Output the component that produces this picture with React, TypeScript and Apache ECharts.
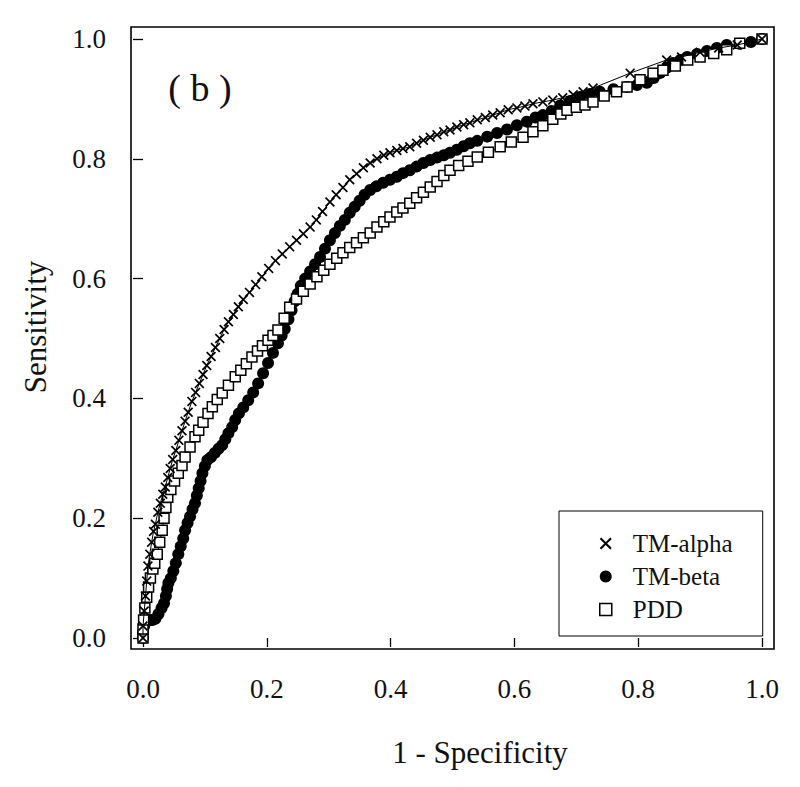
import React, { useEffect, useRef } from "react";
import * as echarts from "echarts";

const seriesNames = ["TM-alpha", "TM-beta", "PDD"];
const axisTicks = [0, 0.2, 0.4, 0.6, 0.8, 1.0];
const panelLabel = "( b )";
const xTitle = "1 - Specificity";
const yTitle = "Sensitivity";

// TM-alpha ROC points [1 - specificity, sensitivity]
const tmAlpha: [number, number][] = [
  [0, 0], [0, 0.02], [0.002, 0.045], [0.004, 0.07], [0.006, 0.095], [0.008, 0.12],
  [0.011, 0.14], [0.014, 0.16], [0.017, 0.178], [0.02, 0.19], [0.024, 0.21], [0.028, 0.225],
  [0.032, 0.24], [0.036, 0.252], [0.04, 0.268], [0.044, 0.283], [0.048, 0.298], [0.053, 0.313],
  [0.058, 0.33], [0.063, 0.346], [0.068, 0.362], [0.073, 0.377], [0.079, 0.395], [0.085, 0.41],
  [0.091, 0.425], [0.097, 0.44], [0.103, 0.455], [0.11, 0.47], [0.117, 0.485], [0.124, 0.5],
  [0.131, 0.515], [0.138, 0.528], [0.146, 0.54], [0.154, 0.553], [0.162, 0.565], [0.172, 0.577],
  [0.182, 0.59], [0.192, 0.603], [0.203, 0.617], [0.214, 0.63], [0.225, 0.641], [0.237, 0.653],
  [0.248, 0.664], [0.259, 0.675], [0.27, 0.686], [0.28, 0.698], [0.29, 0.712], [0.302, 0.728],
  [0.312, 0.74], [0.323, 0.752], [0.334, 0.765], [0.345, 0.775], [0.356, 0.785], [0.367, 0.793],
  [0.378, 0.8], [0.389, 0.806], [0.399, 0.81], [0.41, 0.814], [0.42, 0.817], [0.431, 0.82],
  [0.442, 0.826], [0.453, 0.831], [0.464, 0.836], [0.475, 0.84], [0.486, 0.845], [0.496, 0.848],
  [0.507, 0.853], [0.518, 0.857], [0.528, 0.86], [0.54, 0.865], [0.553, 0.869], [0.565, 0.873],
  [0.577, 0.877], [0.59, 0.882], [0.604, 0.885], [0.617, 0.888], [0.63, 0.892], [0.646, 0.895],
  [0.662, 0.898], [0.678, 0.902], [0.695, 0.907], [0.711, 0.912], [0.727, 0.918], [0.787, 0.943],
  [0.846, 0.965], [0.87, 0.97], [0.9, 0.978], [0.93, 0.985], [0.96, 0.99], [1, 1],
];

// TM-beta ROC points
const tmBeta: [number, number][] = [
  [0, 0], [0, 0.01], [0.002, 0.02], [0.005, 0.028], [0.01, 0.03], [0.015, 0.03],
  [0.02, 0.032], [0.025, 0.04], [0.03, 0.05], [0.034, 0.058], [0.037, 0.07], [0.039, 0.082],
  [0.041, 0.092], [0.045, 0.1], [0.049, 0.112], [0.053, 0.125], [0.057, 0.14], [0.061, 0.153],
  [0.065, 0.166], [0.068, 0.18], [0.072, 0.192], [0.076, 0.203], [0.08, 0.215], [0.084, 0.225],
  [0.087, 0.238], [0.09, 0.25], [0.093, 0.262], [0.096, 0.275], [0.1, 0.287], [0.104, 0.297],
  [0.11, 0.302], [0.116, 0.309], [0.122, 0.316], [0.128, 0.322], [0.133, 0.332], [0.138, 0.342],
  [0.144, 0.352], [0.149, 0.364], [0.155, 0.375], [0.162, 0.385], [0.17, 0.397], [0.178, 0.41],
  [0.186, 0.425], [0.194, 0.442], [0.202, 0.459], [0.21, 0.476], [0.218, 0.492], [0.224, 0.505],
  [0.229, 0.516], [0.235, 0.532], [0.24, 0.547], [0.245, 0.562], [0.25, 0.575], [0.255, 0.588],
  [0.262, 0.6], [0.27, 0.612], [0.278, 0.624], [0.286, 0.636], [0.294, 0.65], [0.302, 0.664],
  [0.31, 0.676], [0.318, 0.688], [0.326, 0.698], [0.334, 0.71], [0.342, 0.72], [0.35, 0.73],
  [0.358, 0.74], [0.367, 0.748], [0.377, 0.754], [0.388, 0.76], [0.399, 0.765], [0.41, 0.77],
  [0.42, 0.776], [0.431, 0.781], [0.442, 0.787], [0.453, 0.793], [0.464, 0.798], [0.475, 0.802],
  [0.486, 0.806], [0.496, 0.81], [0.507, 0.815], [0.518, 0.821], [0.528, 0.826], [0.54, 0.83],
  [0.556, 0.837], [0.572, 0.843], [0.588, 0.849], [0.604, 0.856], [0.62, 0.862], [0.634, 0.869],
  [0.646, 0.873], [0.66, 0.88], [0.674, 0.889], [0.69, 0.896], [0.706, 0.903], [0.722, 0.908],
  [0.738, 0.912], [0.76, 0.916], [0.782, 0.92], [0.798, 0.923], [0.814, 0.927], [0.825, 0.935],
  [0.835, 0.943], [0.846, 0.952], [0.856, 0.96], [0.868, 0.965], [0.879, 0.97], [0.895, 0.975],
  [0.911, 0.98], [0.927, 0.985], [0.943, 0.99], [0.964, 0.992], [0.982, 0.995], [1, 1],
];

// PDD ROC points
const pdd: [number, number][] = [
  [0, 0], [0, 0.015], [0.001, 0.03], [0.003, 0.05], [0.006, 0.068], [0.009, 0.085],
  [0.012, 0.1], [0.016, 0.115], [0.019, 0.125], [0.023, 0.14], [0.027, 0.16], [0.031, 0.18],
  [0.034, 0.2], [0.037, 0.218], [0.04, 0.235], [0.045, 0.248], [0.051, 0.262], [0.057, 0.275],
  [0.063, 0.288], [0.068, 0.302], [0.076, 0.319], [0.084, 0.336], [0.09, 0.347], [0.097, 0.36],
  [0.105, 0.375], [0.112, 0.386], [0.12, 0.398], [0.128, 0.409], [0.138, 0.422], [0.149, 0.436],
  [0.158, 0.447], [0.167, 0.458], [0.176, 0.469], [0.185, 0.479], [0.193, 0.488], [0.202, 0.497],
  [0.21, 0.505], [0.218, 0.514], [0.228, 0.534], [0.237, 0.552], [0.248, 0.566], [0.259, 0.579],
  [0.27, 0.591], [0.281, 0.603], [0.292, 0.614], [0.302, 0.624], [0.313, 0.634], [0.323, 0.643],
  [0.334, 0.652], [0.345, 0.66], [0.356, 0.668], [0.367, 0.676], [0.378, 0.686], [0.389, 0.695],
  [0.399, 0.703], [0.41, 0.711], [0.42, 0.718], [0.431, 0.726], [0.442, 0.735], [0.453, 0.744],
  [0.464, 0.753], [0.475, 0.762], [0.486, 0.772], [0.496, 0.781], [0.51, 0.789], [0.525, 0.796],
  [0.54, 0.803], [0.558, 0.811], [0.577, 0.82], [0.595, 0.828], [0.614, 0.836], [0.63, 0.845],
  [0.646, 0.855], [0.662, 0.866], [0.675, 0.875], [0.685, 0.881], [0.7, 0.886], [0.714, 0.89],
  [0.727, 0.895], [0.745, 0.905], [0.765, 0.912], [0.782, 0.92], [0.803, 0.932], [0.824, 0.943],
  [0.84, 0.948], [0.86, 0.955], [0.88, 0.965], [0.9, 0.97], [0.922, 0.976], [0.943, 0.982],
  [0.964, 0.993], [1, 1],
];

const FONT = "'Liberation Serif', 'Times New Roman', serif";
const CROSS =
  "path://M0,1.2L1.2,0L5,3.8L8.8,0L10,1.2L6.2,5L10,8.8L8.8,10L5,6.2L1.2,10L0,8.8L3.8,5Z";

export default function App() {
  const ref = useRef<HTMLDivElement>(null);
  useEffect(() => {
    const chart = echarts.init(ref.current!, null, { renderer: "svg" });
    const axisCommon = {
      type: "value",
      min: axisTicks[0],
      max: axisTicks[axisTicks.length - 1],
      interval: 0.2,
      axisLine: { show: false },
      axisTick: { show: true, inside: false, length: 10, lineStyle: { color: "#000", width: 1.3 } },
      splitLine: { show: false },
      axisLabel: {
        fontFamily: FONT,
        fontSize: 27,
        color: "#111",
        formatter: (v: number) => v.toFixed(1),
      },
    };
    chart.setOption({
      animation: false,
      backgroundColor: "#fff",
      grid: { left: 143, right: 38, top: 39, bottom: 149, containLabel: false },
      xAxis: {
        ...axisCommon,
        offset: 11,
        axisTick: { ...axisCommon.axisTick, length: 9 },
        axisLabel: { ...axisCommon.axisLabel, margin: 26 },
      },
      yAxis: {
        ...axisCommon,
        offset: 12,
        axisLabel: { ...axisCommon.axisLabel, margin: 25 },
      },
      legend: {
        orient: "vertical",
        left: 559,
        top: 511,
        padding: [20, 30, 14, 40],
        itemWidth: 12,
        itemHeight: 12,
        itemGap: 8,
        borderColor: "#000",
        borderWidth: 1,
        textStyle: { fontFamily: FONT, fontSize: 25, color: "#111", lineHeight: 25, padding: [0, 0, 0, 16] },
        data: [
          { name: seriesNames[0], icon: CROSS, itemStyle: { color: "#000", borderWidth: 0 } },
          { name: seriesNames[1], icon: "circle", itemStyle: { color: "#000", borderWidth: 0 } },
          { name: seriesNames[2], icon: "rect", itemStyle: { color: "#fff", borderColor: "#000", borderWidth: 1.5 } },
        ],
      },
      graphic: [
        {
          type: "rect",
          shape: { x: 131, y: 27, width: 643, height: 622 },
          style: { fill: "none", stroke: "#000", lineWidth: 1.6 },
          silent: true,
        },
        {
          type: "text",
          x: 200,
          y: 88,
          style: { text: panelLabel, font: `38px ${FONT}`, fill: "#111", textAlign: "center", textVerticalAlign: "middle" },
        },
        {
          type: "text",
          x: 480,
          y: 752,
          style: { text: xTitle, font: `31px ${FONT}`, fill: "#111", textAlign: "center", textVerticalAlign: "middle" },
        },
        {
          type: "text",
          x: 35,
          y: 327,
          rotation: Math.PI / 2,
          style: { text: yTitle, font: `31px ${FONT}`, fill: "#111", textAlign: "center", textVerticalAlign: "middle" },
        },
      ],
      series: [
        {
          name: seriesNames[1],
          type: "line",
          data: tmBeta,
          symbol: "circle",
          symbolSize: 12,
          showAllSymbol: true,
          clip: false,
          itemStyle: { color: "#000" },
          lineStyle: { color: "#000", width: 1 },
          z: 2,
        },
        {
          name: seriesNames[2],
          type: "line",
          data: pdd,
          symbol: "rect",
          symbolSize: 10,
          showAllSymbol: true,
          clip: false,
          itemStyle: { color: "#fff", borderColor: "#000", borderWidth: 1.5 },
          lineStyle: { color: "#000", width: 1 },
          z: 3,
        },
        {
          name: seriesNames[0],
          type: "line",
          data: tmAlpha,
          symbol: CROSS,
          symbolSize: 10,
          showAllSymbol: true,
          clip: false,
          itemStyle: { color: "#000" },
          lineStyle: { color: "#000", width: 1 },
          z: 4,
        },
      ],
    });
    return () => chart.dispose();
  }, []);
  return (
    <div
      ref={ref}
      style={{ position: "fixed", left: 0, top: 0, width: 800, height: 787, background: "#fff" }}
    />
  );
}
